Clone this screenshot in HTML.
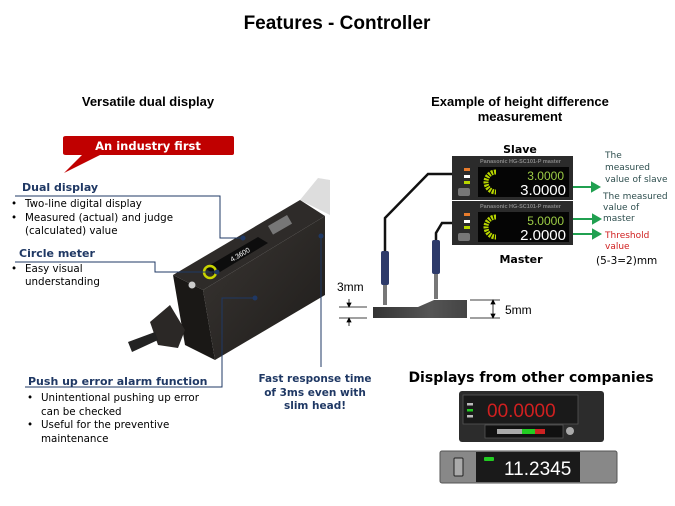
<!DOCTYPE html>
<html><head><meta charset="utf-8"><style>
html,body{margin:0;padding:0;background:#fff}
svg{display:block}
.v{font-family:"DejaVu Sans",Verdana,sans-serif}
.a{font-family:"Liberation Sans",Arial,sans-serif}
</style></head><body>
<svg width="675" height="506" viewBox="0 0 675 506" xmlns="http://www.w3.org/2000/svg">
<defs>
<linearGradient id="wp" x1="0" y1="0" x2="1" y2="0"><stop offset="0" stop-color="#333"/><stop offset="0.6" stop-color="#555"/><stop offset="1" stop-color="#444"/></linearGradient>
<linearGradient id="bd" x1="0" y1="0" x2="1" y2="1"><stop offset="0" stop-color="#3a3633"/><stop offset="1" stop-color="#1e1c1a"/></linearGradient>
</defs>
<text x="337" y="29" text-anchor="middle" class="a" font-weight="bold" font-size="19">Features - Controller</text>
<text x="148" y="106" text-anchor="middle" class="a" font-weight="bold" font-size="13">Versatile dual display</text>
<text x="520" y="106" text-anchor="middle" class="a" font-weight="bold" font-size="13">Example of height difference</text>
<text x="520" y="121" text-anchor="middle" class="a" font-weight="bold" font-size="13">measurement</text>

<!-- banner -->
<path d="M66,136 H232 Q234,136 234,138 V153 Q234,155 232,155 H100 L64,173 L82,155 H66 Q63,155 63,153 V138 Q63,136 66,136Z" fill="#c00000"/>
<text x="148" y="150" text-anchor="middle" class="v" font-weight="bold" font-size="11.5" fill="#fff">An industry first</text>

<!-- device -->
<path d="M300,200 L318,178 L330,180 L330,215 Z" fill="#ddd"/>
<path d="M173,275 L300,200 L325,216 L203,290 Z" fill="#2e2b29"/>
<path d="M203,290 L325,216 L325,295 L215,360 Z" fill="url(#bd)"/>
<path d="M173,275 L203,290 L215,360 L185,345 Z" fill="#1a1816"/>
<path d="M150,322 L170,305 L185,330 L178,348 L158,345 Z" fill="#2b2826"/>
<path d="M128,342 L155,332 L158,340 L132,352 Z" fill="#222"/>
<path d="M205,268 L258,237 L268,243 L215,275 Z" fill="#0d0d0d"/>
<text x="232" y="262" class="a" font-size="7" fill="#fff" transform="rotate(-30 232 262)">4.3600</text>
<circle cx="210" cy="272" r="6" fill="none" stroke="#c8d400" stroke-width="2.5"/>
<circle cx="192" cy="285" r="3.5" fill="#ccc"/>
<rect x="268" y="226" width="22" height="10" fill="#777" transform="rotate(-30 268 226)"/>

<!-- callout lines -->
<g stroke="#1f3864" stroke-width="1" fill="none">
<path d="M15,196 H220 V238 H243"/>
<path d="M15,262 H155 V272 H217"/>
<path d="M25,387 H222 V298 H255"/>
<path d="M321,236 V367"/>
</g>
<g fill="#1f3864"><circle cx="243" cy="238" r="2.5"/><circle cx="217" cy="272" r="2.5"/><circle cx="255" cy="298" r="2.5"/><circle cx="321" cy="236" r="2.5"/></g>

<g class="v" font-size="10.3" fill="#000">
<text x="22" y="191" font-weight="bold" font-size="11" fill="#1f3864">Dual display</text>
<text x="11" y="207">•</text><text x="25" y="207">Two-line digital display</text>
<text x="11" y="221">•</text><text x="25" y="221">Measured (actual) and judge</text>
<text x="25" y="234">(calculated) value</text>
<text x="19" y="257" font-weight="bold" font-size="11" fill="#1f3864">Circle meter</text>
<text x="11" y="272">•</text><text x="25" y="272">Easy visual</text>
<text x="25" y="285">understanding</text>
<text x="28" y="385" font-weight="bold" font-size="11" fill="#1f3864">Push up error alarm function</text>
<text x="27" y="401">•</text><text x="41" y="401">Unintentional pushing up error</text>
<text x="41" y="415">can be checked</text>
<text x="27" y="428">•</text><text x="41" y="428">Useful for the preventive</text>
<text x="41" y="442">maintenance</text>
<g font-weight="bold" font-size="10.5" fill="#1f3864" text-anchor="middle">
<text x="315" y="382">Fast response time</text>
<text x="315" y="396">of 3ms even with</text>
<text x="315" y="409">slim head!</text>
</g>
</g>

<!-- right: displays -->
<text x="520" y="153" text-anchor="middle" class="v" font-weight="bold" font-size="11">Slave</text>
<text x="521" y="263" text-anchor="middle" class="v" font-weight="bold" font-size="11">Master</text>
<rect x="452" y="156" width="121" height="44" fill="#2b2b2b"/>
<rect x="452" y="201" width="121" height="44" fill="#2b2b2b"/>
<rect x="478" y="167" width="91" height="30" fill="#050505"/>
<rect x="478" y="212" width="91" height="30" fill="#050505"/>
<text x="480" y="163" class="a" font-size="5.5" font-weight="bold" fill="#888">Panasonic  HG-SC101-P   master</text>
<text x="480" y="208" class="a" font-size="5.5" font-weight="bold" fill="#888">Panasonic  HG-SC101-P   master</text>
<g fill="none" stroke="#b8d600" stroke-width="5" stroke-dasharray="2 1">
<path d="M496,172 A10,10 0 1 0 496,192"/><path d="M496,217 A10,10 0 1 0 496,237"/></g>
<g><rect x="464" y="168" width="6" height="3" fill="#e87c2c"/><rect x="464" y="175" width="6" height="3" fill="#fff"/><rect x="464" y="181" width="6" height="3" fill="#b8d600"/>
<rect x="458" y="188" width="12" height="8" rx="2" fill="#777"/>
<rect x="464" y="213" width="6" height="3" fill="#e87c2c"/><rect x="464" y="220" width="6" height="3" fill="#fff"/><rect x="464" y="226" width="6" height="3" fill="#b8d600"/>
<rect x="458" y="233" width="12" height="8" rx="2" fill="#777"/></g>
<g class="a" text-anchor="end">
<text x="564" y="180" font-size="12" fill="#9ccc45">3.0000</text>
<text x="566" y="195" font-size="15" fill="#fff">3.0000</text>
<text x="564" y="225" font-size="12" fill="#9ccc45">5.0000</text>
<text x="566" y="240" font-size="15" fill="#fff">2.0000</text>
</g>
<g stroke="#20a050" stroke-width="2" fill="#20a050">
<line x1="573" y1="187" x2="594" y2="187"/><path d="M599,187 L592,183 L592,191Z"/>
<line x1="573" y1="219" x2="595" y2="219"/><path d="M600,219 L593,215 L593,223Z"/>
<line x1="573" y1="234" x2="595" y2="234"/><path d="M600,234 L593,230 L593,238Z"/>
</g>
<g class="v" font-size="9" fill="#2f4f4f">
<text x="605" y="158">The</text><text x="605" y="170">measured</text><text x="605" y="182">value of slave</text>
<text x="603" y="199">The measured</text><text x="603" y="210">value of</text><text x="603" y="221">master</text>
<text x="605" y="238" fill="#d02020">Threshold</text><text x="605" y="249" fill="#d02020">value</text>
<text x="596" y="264" font-size="10.5" fill="#000">(5-3=2)mm</text>
</g>

<!-- cables & probes -->
<g stroke="#111" stroke-width="2.5" fill="none">
<path d="M452,174 H428 L385,218 V252"/>
<path d="M452,223 H442 L436,233 V240"/>
</g>
<rect x="381" y="251" width="8" height="34" rx="2" fill="#2d3a6a"/>
<rect x="383" y="285" width="4" height="20" fill="#777"/>
<rect x="432" y="240" width="8" height="34" rx="2" fill="#2d3a6a"/>
<rect x="434" y="274" width="4" height="25" fill="#777"/>
<path d="M373,307 H418 L434,300 H467 V318 H373 Z" fill="url(#wp)"/>

<!-- dims -->
<g stroke="#000" stroke-width="0.8" fill="#000">
<line x1="339" y1="307" x2="367" y2="307"/><line x1="339" y1="318" x2="367" y2="318"/>
<line x1="349" y1="299" x2="349" y2="306"/><path d="M349,307 L347,303 L351,303Z"/>
<line x1="349" y1="319" x2="349" y2="326"/><path d="M349,318 L347,322 L351,322Z"/>
<line x1="470" y1="300" x2="500" y2="300"/><line x1="470" y1="318" x2="500" y2="318"/>
<line x1="493" y1="301" x2="493" y2="317"/><path d="M493,300 L491,304 L495,304Z"/><path d="M493,318 L491,314 L495,314Z"/>
</g>
<text x="337" y="291" class="a" font-size="12">3mm</text>
<text x="505" y="314" class="a" font-size="12">5mm</text>

<!-- other companies -->
<text x="531" y="382" text-anchor="middle" class="v" font-weight="bold" font-size="14">Displays from other companies</text>
<rect x="459" y="391" width="145" height="51" rx="3" fill="#2c2c2c"/>
<rect x="463" y="395" width="115" height="29" fill="#1a1a1a" stroke="#555" stroke-width="0.8"/>
<rect x="467" y="403" width="6" height="2.5" fill="#bbb"/><rect x="467" y="409" width="6" height="2.5" fill="#2c2"/><rect x="467" y="415" width="6" height="2.5" fill="#bbb"/>
<text x="487" y="417" class="a" font-size="19" fill="#d02020">00.0000</text>
<rect x="485" y="425" width="78" height="13" fill="#111" stroke="#555" stroke-width="0.8"/>
<g fill="#aaa"><rect x="497" y="429" width="25" height="5"/></g>
<g fill="#2c2"><rect x="522" y="429" width="13" height="5"/></g>
<g fill="#c22"><rect x="535" y="429" width="10" height="5"/></g>
<circle cx="570" cy="431" r="4" fill="#aaa"/>
<rect x="440" y="451" width="177" height="32" rx="2" fill="#888" stroke="#555"/>
<rect x="476" y="452" width="104" height="30" fill="#1a1a1a"/>
<rect x="454" y="458" width="9" height="18" rx="1" fill="#aaa" stroke="#222"/>
<rect x="484" y="457" width="10" height="4" rx="1" fill="#2c2"/>
<text x="504" y="475" class="a" font-size="19" fill="#fff">11.2345</text>
</svg>
</body></html>
